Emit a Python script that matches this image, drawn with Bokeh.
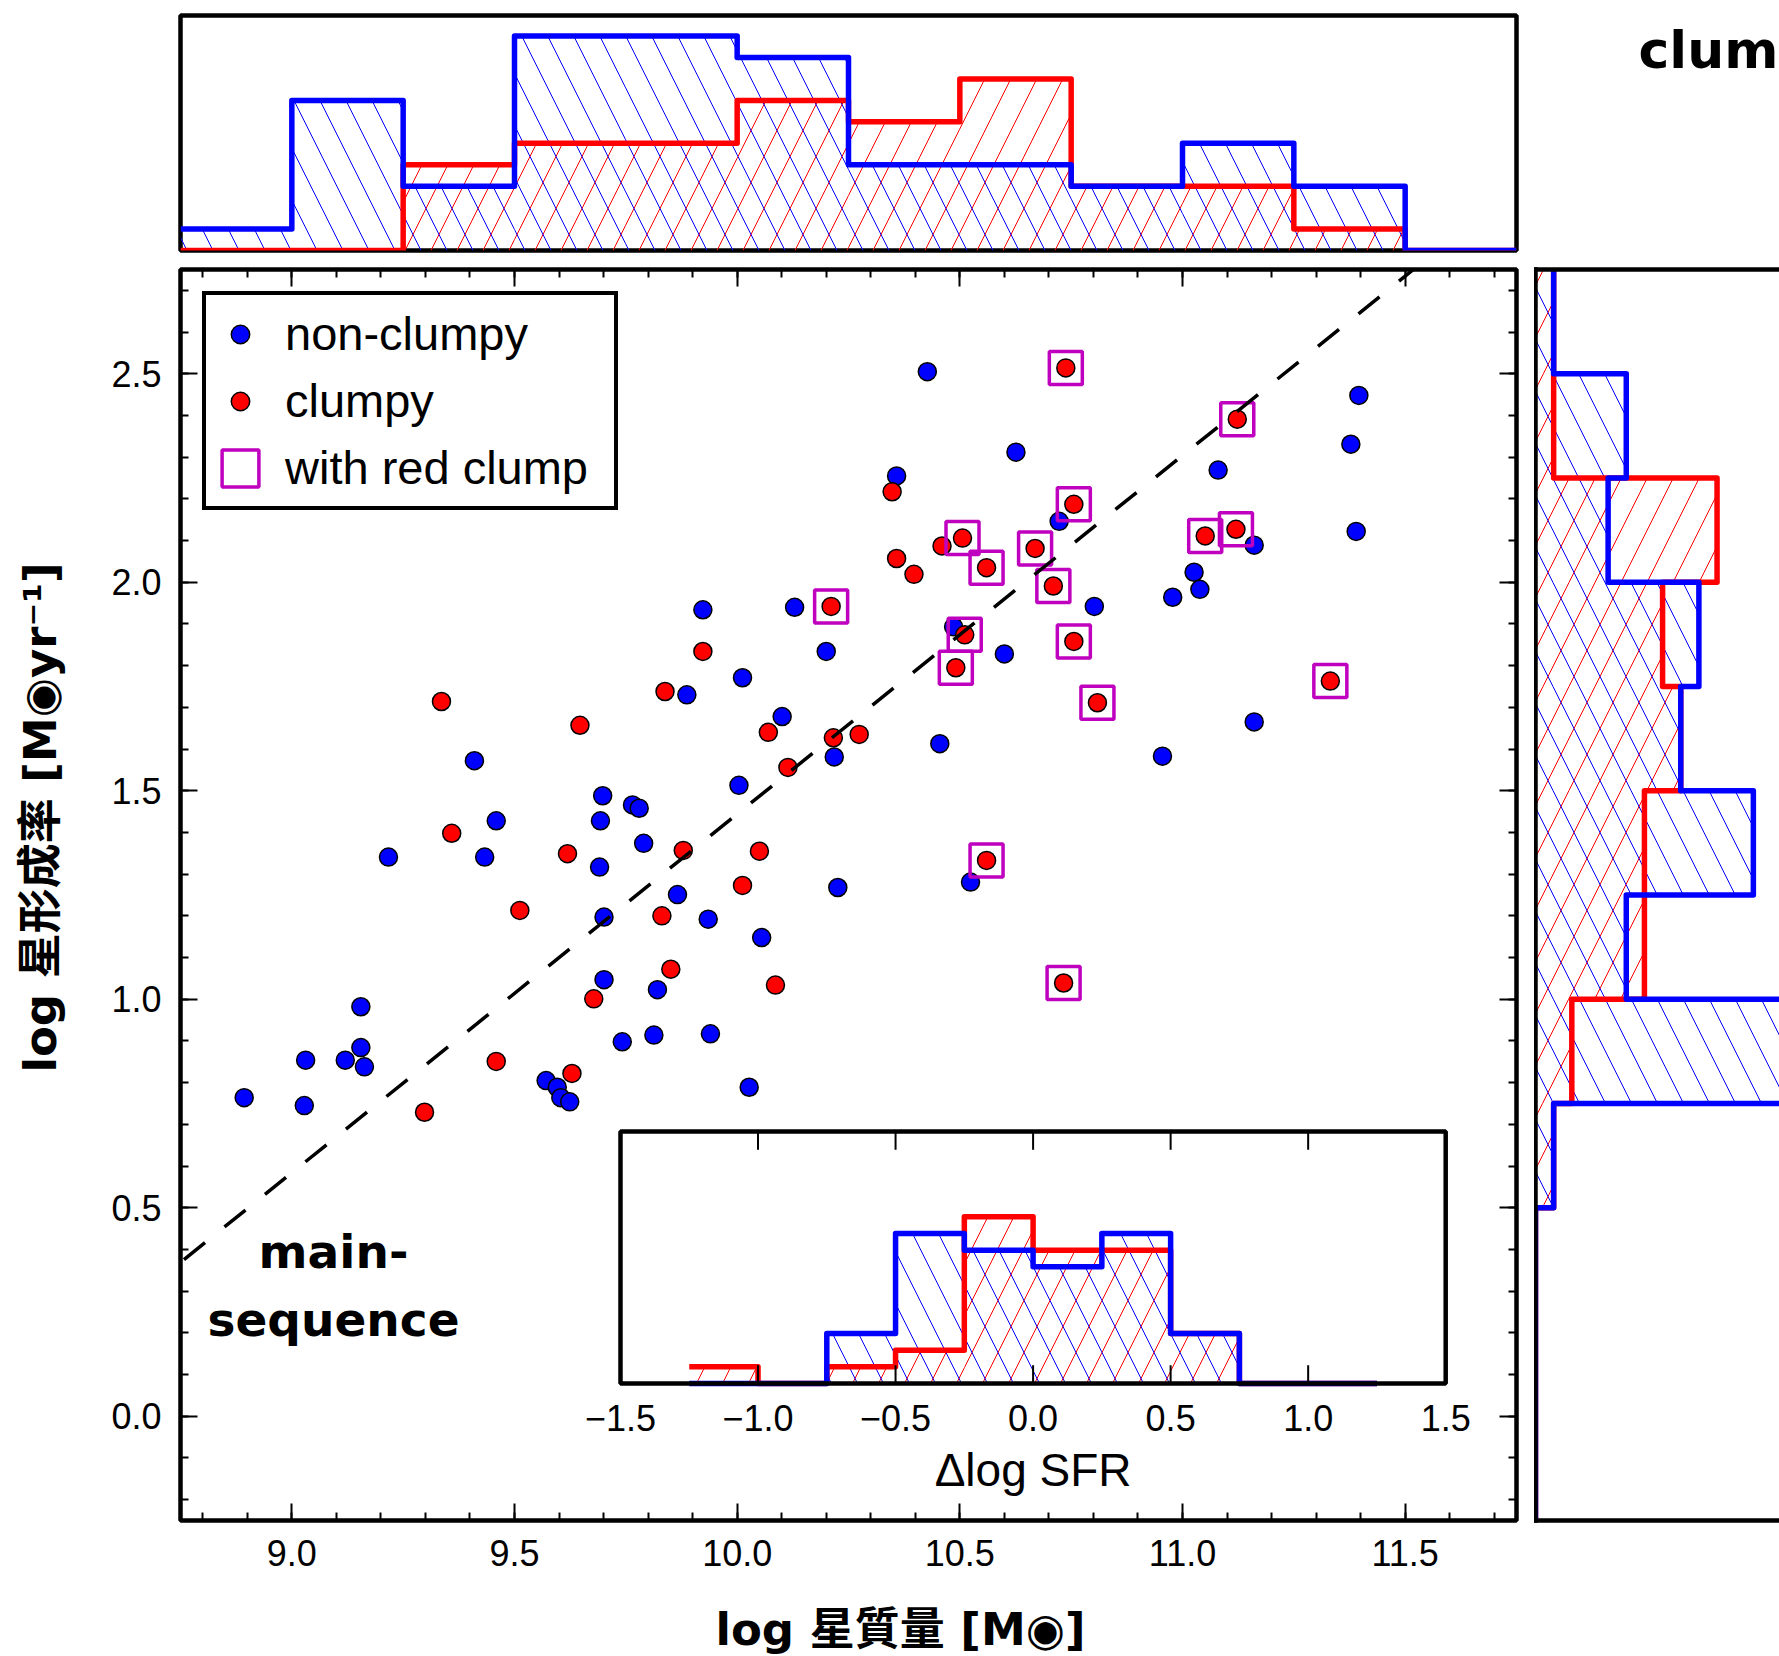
import numpy as np
from bokeh.plotting import figure
from bokeh.layouts import column, row
from bokeh.models import (Range1d, LinearAxis, SingleIntervalTicker, FixedTicker,
                          PrintfTickFormatter, Legend, LegendItem, Label, Slope)
from bokeh.core.properties import value
from bokeh.embed import file_html
from bokeh.resources import INLINE

# ---------------- data ----------------
nonclumpy_mass = [8.893, 9.028, 9.031, 9.120, 9.155, 9.155, 9.163, 9.217, 9.410, 9.433,
                  9.459, 9.571, 9.596, 9.604, 9.624, 9.691, 9.693, 9.698, 9.701, 9.701,
                  9.742, 9.765, 9.780, 9.790, 9.813, 9.821, 9.866, 9.887, 9.923, 9.935,
                  9.940, 10.004, 10.012, 10.027, 10.055, 10.101, 10.129, 10.200, 10.218, 10.226,
                  10.358, 10.427, 10.455, 10.486, 10.524, 10.600, 10.626, 10.723, 10.802, 10.955,
                  10.978, 11.026, 11.039, 11.080, 11.161, 11.161, 11.378, 11.390, 11.396]
nonclumpy_sfr = [0.764, 0.745, 0.854, 0.854, 0.982, 0.884, 0.838, 1.341, 1.572, 1.341,
                 1.428, 0.805, 0.789, 0.764, 0.754, 1.317, 1.428, 1.488, 1.047, 1.197,
                 0.898, 1.466, 1.458, 1.374, 0.914, 1.023, 1.251, 1.730, 1.934, 1.192,
                 0.917, 1.513, 1.771, 0.789, 1.148, 1.678, 1.940, 1.834, 1.581, 1.268,
                 2.255, 2.505, 1.613, 1.893, 1.281, 1.828, 2.312, 2.146, 1.942, 1.583,
                 1.964, 2.024, 1.983, 2.269, 2.089, 1.665, 2.331, 2.122, 2.448]

clumpy_mass = [9.298, 9.336, 9.359, 9.459, 9.512, 9.619, 9.629, 9.647, 9.678, 9.831,
               9.838, 9.851, 9.879, 9.923, 10.012, 10.050, 10.070, 10.086, 10.114, 10.211,
               10.216, 10.274, 10.348, 10.358, 10.397, 10.460, 10.491, 10.506, 10.511, 10.560,
               10.560, 10.669, 10.710, 10.733, 10.738, 10.756, 10.756, 10.809, 11.051, 11.120,
               11.123, 11.332]
clumpy_sfr = [0.729, 1.714, 1.398, 0.851, 1.213, 1.349, 0.822, 1.657, 1.001, 1.200,
              1.738, 1.072, 1.357, 1.834, 1.273, 1.355, 1.640, 1.034, 1.556, 1.942,
              1.627, 1.635, 2.217, 2.057, 2.019, 2.087, 1.795, 2.106, 1.874, 2.035,
              1.333, 2.081, 1.991, 1.039, 2.514, 2.187, 1.858, 1.711, 2.111, 2.127,
              2.391, 1.763]
clumpy_red_clump = [False, False, False, False, False, False, False, False, False, False,
                    False, False, False, False, False, False, False, False, False, True,
                    False, False, False, False, False, False, True, True, True, True,
                    True, True, True, True, True, True, True, True, True, True,
                    True, True]

# stellar-mass histogram (top panel)
mass_edges = [8.75, 9.0, 9.25, 9.5, 9.75, 10.0, 10.25, 10.5, 10.75, 11.0, 11.25, 11.5, 11.75]
mass_hist_nonclumpy = [1, 7, 3, 10, 10, 9, 4, 4, 3, 5, 3, 0]
mass_hist_clumpy = [0, 0, 4, 5, 5, 7, 6, 8, 3, 3, 1, 0]

# SFR histogram (right panel)
sfr_edges = [-0.25, 0.0, 0.25, 0.5, 0.75, 1.0, 1.25, 1.5, 1.75, 2.0, 2.25, 2.5, 2.75]
sfr_hist_nonclumpy = [0, 0, 0, 1, 14, 5, 12, 8, 9, 4, 5, 1]
sfr_hist_clumpy = [0, 0, 0, 1, 2, 6, 6, 8, 7, 10, 1, 1]

# delta log SFR histogram (inset)
dsfr_edges = [-1.25, -1.0, -0.75, -0.5, -0.25, 0.0, 0.25, 0.5, 0.75, 1.0, 1.25]
dsfr_hist_nonclumpy = [0, 0, 3, 9, 8, 7, 9, 3, 0, 0]
dsfr_hist_clumpy = [1, 0, 1, 2, 10, 8, 8, 3, 0, 0]
inset_tick_values = [-1.5, -1.0, -0.5, 0.0, 0.5, 1.0, 1.5]
inset_tick_labels = ["\u22121.5", "\u22121.0", "\u22120.5", "0.0", "0.5", "1.0", "1.5"]
inset_inner_ticks = [-1.0, -0.5, 0.0, 0.5, 1.0]

# main sequence relation
ms_slope = 0.86
ms_intercept = -7.156

BLUE = "#0000ff"
RED = "#ff0000"
MAG = "#bf00bf"
FONT = "Liberation Sans"
TITLE_FONT = "DejaVu Sans, Noto Sans CJK TC"
HEAVY = "DejaVu Sans"
HSCALE = 52

XR = Range1d(8.75, 11.75)
YR = Range1d(-0.25, 2.75)


def base_fig(**kw):
    f = figure(output_backend="svg", toolbar_location=None,
               x_axis_type=None, y_axis_type=None, **kw)
    f.background_fill_color = "white"
    f.border_fill_color = "white"
    return f


# ---------------- y-axis title strip ----------------
ylab = base_fig(width=100, height=1656, x_range=Range1d(0, 1), y_range=Range1d(0, 1), min_border=0)
ylab.outline_line_color = None
ylab.add_layout(Label(x=40, y=839, x_units="screen", y_units="screen", angle=np.pi / 2,
                      text="log 星形成率 [M◉yr⁻¹]", text_font=TITLE_FONT, text_font_style="bold",
                      text_font_size="45px", text_align="center", text_baseline="middle",
                      text_color="black"))

# ---------------- top histogram ----------------
top = base_fig(width=1434, height=260, x_range=XR, y_range=Range1d(0, 10.96),
               min_border_left=80, min_border_right=18, min_border_top=15, min_border_bottom=10)
top.outline_line_color = "black"
top.outline_line_width = 4.5
top.quad(left=mass_edges[:-1], right=mass_edges[1:], bottom=0, top=mass_hist_clumpy,
         fill_color=None, line_color=None, hatch_pattern="/", hatch_color=RED,
         hatch_weight=1, hatch_scale=HSCALE)
top.quad(left=mass_edges[:-1], right=mass_edges[1:], bottom=0, top=mass_hist_nonclumpy,
         fill_color=None, line_color=None, hatch_pattern="\\", hatch_color=BLUE,
         hatch_weight=1, hatch_scale=HSCALE)
top.step(x=mass_edges, y=mass_hist_clumpy + [mass_hist_clumpy[-1]], mode="after",
         line_color=RED, line_width=5.5, line_join="round")
top.step(x=mass_edges, y=mass_hist_nonclumpy + [mass_hist_nonclumpy[-1]], mode="after",
         line_color=BLUE, line_width=5.5, line_join="round")

# ---------------- corner (title) ----------------
corner = base_fig(width=245, height=260, x_range=Range1d(0, 1), y_range=Range1d(0, 1),
                  min_border=0)
corner.outline_line_color = None
corner.add_layout(Label(x=104, y=201, x_units="screen", y_units="screen", text="clumpy",
                        text_font=HEAVY, text_font_style="bold", text_font_size="52px",
                        text_baseline="alphabetic", text_align="left", text_color="black"))

# ---------------- main scatter ----------------
p = base_fig(width=1434, height=1336, x_range=XR, y_range=YR,
             min_border_left=80, min_border_right=18, min_border_top=9, min_border_bottom=76)
p.outline_line_color = "black"
p.outline_line_width = 4.5


def style_axis(ax, labels):
    ax.axis_line_color = None
    ax.major_tick_in = 17
    ax.major_tick_out = 0
    ax.minor_tick_in = 8
    ax.minor_tick_out = 0
    ax.major_tick_line_width = 2
    ax.minor_tick_line_width = 2
    ax.major_tick_line_color = "black"
    ax.minor_tick_line_color = "black"
    if labels:
        ax.major_label_text_font = FONT
        ax.major_label_text_font_size = "36px"
        ax.major_label_text_color = "black"
        ax.major_label_standoff = 19
    else:
        ax.major_label_text_font_size = "1px"
        ax.major_label_text_color = None
        ax.major_label_standoff = 0


for side in ("below", "left", "above", "right"):
    ax = LinearAxis(ticker=SingleIntervalTicker(interval=0.5, num_minor_ticks=5),
                    formatter=PrintfTickFormatter(format="%.1f"))
    style_axis(ax, side in ("below", "left"))
    p.add_layout(ax, side)

p.add_layout(Slope(gradient=ms_slope, y_intercept=ms_intercept, line_color="black",
                   line_width=3.5, line_dash="27 25"))

r_blue = p.scatter(nonclumpy_mass, nonclumpy_sfr, size=18, fill_color=BLUE,
                   line_color="black", line_width=1.5)
r_red = p.scatter(clumpy_mass, clumpy_sfr, size=18, fill_color=RED,
                  line_color="black", line_width=1.5)
rc_mass = [m for m, f in zip(clumpy_mass, clumpy_red_clump) if f]
rc_sfr = [s for s, f in zip(clumpy_sfr, clumpy_red_clump) if f]
r_box = p.rect(x=rc_mass, y=rc_sfr, width=33, height=33, width_units="screen",
               height_units="screen", fill_color=None, line_color=MAG, line_width=3.5)

legend = Legend(items=[LegendItem(label="non-clumpy", renderers=[r_blue]),
                       LegendItem(label="clumpy", renderers=[r_red]),
                       LegendItem(label="with red clump", renderers=[r_box])],
                location="top_left", margin=22, padding=11, spacing=12,
                glyph_width=46, glyph_height=46, label_height=46, label_standoff=22,
                label_width=318,
                label_text_font=FONT, label_text_font_size="47px", label_text_color="black",
                border_line_color="black", border_line_width=4, border_line_alpha=1.0,
                background_fill_color="white", background_fill_alpha=1.0)
p.add_layout(legend)

# main-sequence annotation
for txt, yy in (("main-", 269), ("sequence", 201)):
    p.add_layout(Label(x=153, y=yy, x_units="screen", y_units="screen", text=txt,
                       text_font=HEAVY, text_font_style="bold", text_font_size="47px",
                       text_align="center", text_baseline="alphabetic", text_color="black"))

# ---------------- inset (delta log SFR) ----------------
INS_TOP = 15.12
inset = p.subplot(x_source=Range1d(-1.5, 1.5), y_source=Range1d(0, INS_TOP),
                  x_target=Range1d(9.738, 11.591), y_target=Range1d(0.0785, 0.683))
inset.quad(left=[-1.5], right=[1.5], bottom=[0], top=[INS_TOP], fill_color="white",
           line_color=None)
inset.quad(left=dsfr_edges[:-1], right=dsfr_edges[1:], bottom=0, top=dsfr_hist_clumpy,
           fill_color=None, line_color=None, hatch_pattern="/", hatch_color=RED,
           hatch_weight=1, hatch_scale=HSCALE)
inset.quad(left=dsfr_edges[:-1], right=dsfr_edges[1:], bottom=0, top=dsfr_hist_nonclumpy,
           fill_color=None, line_color=None, hatch_pattern="\\", hatch_color=BLUE,
           hatch_weight=1, hatch_scale=HSCALE)
inset.step(x=dsfr_edges, y=dsfr_hist_clumpy + [dsfr_hist_clumpy[-1]], mode="after",
           line_color=RED, line_width=5.5, line_join="round")
inset.step(x=dsfr_edges, y=dsfr_hist_nonclumpy + [dsfr_hist_nonclumpy[-1]], mode="after",
           line_color=BLUE, line_width=5.5, line_join="round")
inset.quad(left=[-1.5], right=[1.5], bottom=[0], top=[INS_TOP], fill_color=None,
           line_color="black", line_width=4.5)
tick_len = 1.1
nt = len(inset_inner_ticks)
inset.segment(x0=inset_inner_ticks, x1=inset_inner_ticks, y0=[INS_TOP] * nt,
              y1=[INS_TOP - tick_len] * nt, line_color="black", line_width=2)
inset.segment(x0=inset_inner_ticks, x1=inset_inner_ticks, y0=[0] * nt, y1=[tick_len] * nt,
              line_color="black", line_width=2)
inset.text(x=inset_tick_values, y=[-2.05] * len(inset_tick_values), text=inset_tick_labels,
           text_font=value(FONT), text_font_size="36px", text_align="center",
           text_baseline="middle", text_color="black")
inset.text(x=[0.0], y=[-5.2], text=["Δlog SFR"], text_font=value(FONT),
           text_font_size="46px", text_align="center", text_baseline="middle",
           text_color="black")

# ---------------- right histogram ----------------
rh = base_fig(width=245, height=1336, x_range=Range1d(0, 13.44), y_range=YR,
              min_border_left=1, min_border_right=0, min_border_top=9, min_border_bottom=76)
rh.outline_line_color = None
for side in ("left", "above", "below"):
    ax = LinearAxis(ticker=FixedTicker(ticks=[]))
    ax.major_label_text_font_size = "1px"
    ax.major_label_text_color = None
    ax.major_label_standoff = 0
    ax.major_tick_in = 0
    ax.major_tick_out = 0
    ax.minor_tick_in = 0
    ax.minor_tick_out = 0
    ax.axis_line_width = 4.5
    ax.axis_line_color = "black"
    ax.axis_line_cap = "square"
    rh.add_layout(ax, side)


def vstep(edges, counts):
    xs, ys = [], []
    for i, c in enumerate(counts):
        xs += [c, c]
        ys += [edges[i], edges[i + 1]]
    return xs, ys


rh.quad(left=0, right=sfr_hist_clumpy, bottom=sfr_edges[:-1], top=sfr_edges[1:],
        fill_color=None, line_color=None, hatch_pattern="/", hatch_color=RED,
        hatch_weight=1, hatch_scale=HSCALE)
rh.quad(left=0, right=sfr_hist_nonclumpy, bottom=sfr_edges[:-1], top=sfr_edges[1:],
        fill_color=None, line_color=None, hatch_pattern="\\", hatch_color=BLUE,
        hatch_weight=1, hatch_scale=HSCALE)
xs, ys = vstep(sfr_edges, sfr_hist_clumpy)
rh.line(xs, ys, line_color=RED, line_width=5.5, line_join="round")
xs, ys = vstep(sfr_edges, sfr_hist_nonclumpy)
rh.line(xs, ys, line_color=BLUE, line_width=5.5, line_join="round")

# ---------------- x-axis title strip ----------------
xlab = base_fig(width=1679, height=60, x_range=Range1d(0, 1), y_range=Range1d(0, 1), min_border=0)
xlab.outline_line_color = None
xlab.add_layout(Label(x=800, y=27, x_units="screen", y_units="screen",
                      text="log 星質量 [M◉]", text_font=TITLE_FONT, text_font_style="bold",
                      text_font_size="45px", text_align="center", text_baseline="alphabetic",
                      text_color="black"))

right_part = column(row(top, corner, spacing=0), row(p, rh, spacing=0), xlab, spacing=0)
layout = row(ylab, right_part, spacing=0)
open("out.html", "w").write(file_html(layout, INLINE))
